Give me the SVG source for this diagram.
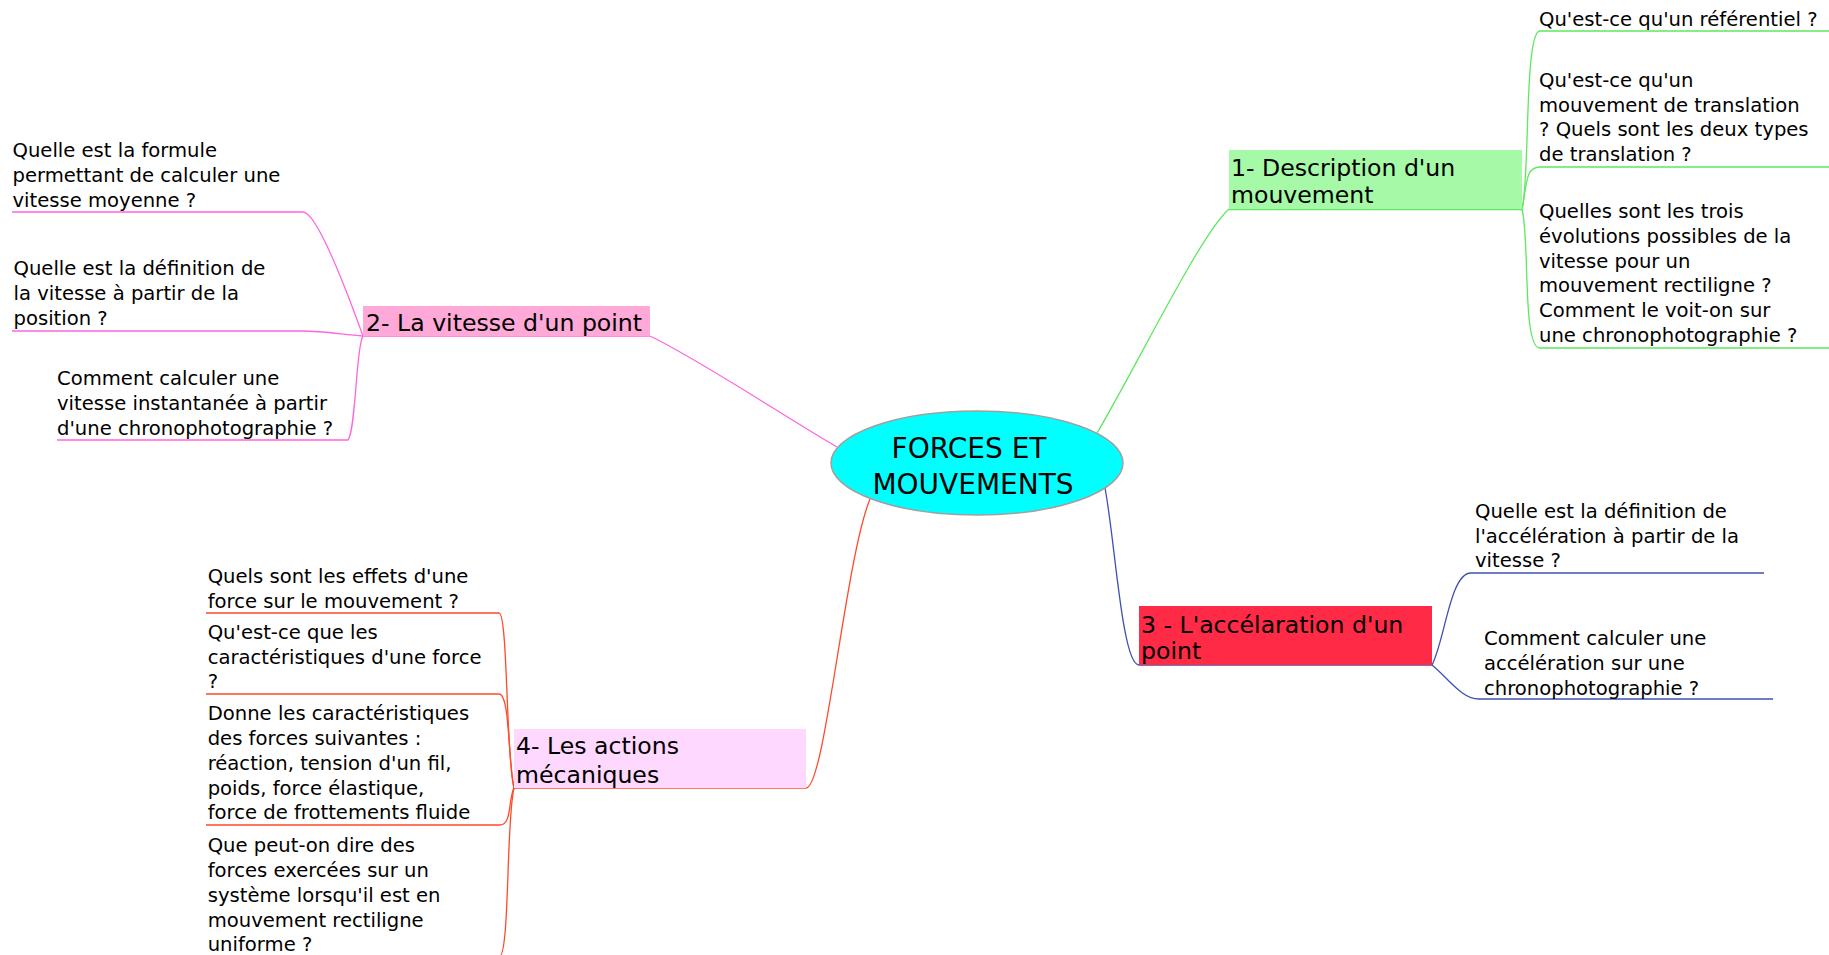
<svg xmlns="http://www.w3.org/2000/svg" width="1829" height="955" viewBox="0 0 1829 955">
<style>
text{font-family:"DejaVu Sans","Liberation Sans",sans-serif;fill:#000}
.leaf{font-size:19.6px}
.node{font-size:23.6px}
.root{font-size:28px}
.c{fill:none;stroke-width:1.3}
.g{stroke:#5EE85E}.p{stroke:#FF66DD}.b{stroke:#3F51B0}.r{stroke:#FF4A2A}
</style>
<rect width="1829" height="955" fill="#fff"/>
<g id="connectors">
<path class="c g" d="M1097,433 C1140,360 1200,235 1229,209"/>
<path class="c g" d="M1229,209.5 H1522"/>
<path class="c g" d="M1522,209 C1530,180 1524,31 1540,31 H1829"/>
<path class="c g" d="M1522,209 C1527,185 1525,167 1540,167 H1829"/>
<path class="c g" d="M1522,209 C1530,240 1522,348 1540,348 H1829"/>
<path class="c p" d="M650,336 C700,360 790,420 837,447"/>
<path class="c p" d="M363,336 H650"/>
<path class="c p" d="M363,336 C350,300 318,212 303,212 H12"/>
<path class="c p" d="M363,336 C340,334 320,331 303,331 H12"/>
<path class="c p" d="M363,336 C356,345 356,430 348,440 H57"/>
<path class="c b" d="M1105,488 C1115,540 1122,665 1139,665"/>
<path class="c b" d="M1139,665 H1432"/>
<path class="c b" d="M1432,665 C1445,640 1450,573 1471,573 H1764"/>
<path class="c b" d="M1432,665 C1450,680 1462,699 1479,699 H1773"/>
<path class="c r" d="M806,788 C825,788 845,560 870,499"/>
<path class="c r" d="M514,788 H806"/>
<path class="c r" d="M514,788 C506,760 508,613 499,613 H206"/>
<path class="c r" d="M514,788 C508,760 510,694 499,694 H206"/>
<path class="c r" d="M514,788 C508,800 512,825 500,825 H206"/>
<path class="c r" d="M514,788 C506,820 510,957 499,957 H206"/>
</g>
<g id="root">
<ellipse cx="977" cy="463" rx="146" ry="52" fill="#00FFFF" stroke="#A0A0A0" stroke-width="1.5"/>
<text class="root" x="969" y="458" text-anchor="middle">FORCES ET</text>
<text class="root" x="973" y="494" text-anchor="middle">MOUVEMENTS</text>
</g>
<g id="n1">
<rect x="1229" y="150" width="293" height="59" fill="#A6F9A6"/>
<text class="node"><tspan x="1231" y="175.5">1- Description d'un</tspan><tspan x="1231" y="202.5">mouvement</tspan></text>
</g>
<g id="n1a"><text class="leaf" x="1539" y="26">Qu'est-ce qu'un référentiel ?</text></g>
<g id="n1b"><text class="leaf"><tspan x="1539" y="87.2">Qu'est-ce qu'un</tspan><tspan x="1539" y="111.7">mouvement de translation</tspan><tspan x="1539" y="136.2">? Quels sont les deux types</tspan><tspan x="1539" y="160.7">de translation ?</tspan></text></g>
<g id="n1c"><text class="leaf"><tspan x="1539" y="217.9">Quelles sont les trois</tspan><tspan x="1539" y="242.7">évolutions possibles de la</tspan><tspan x="1539" y="267.5">vitesse pour un</tspan><tspan x="1539" y="292.3">mouvement rectiligne ?</tspan><tspan x="1539" y="317.1">Comment le voit-on sur</tspan><tspan x="1539" y="341.9">une chronophotographie ?</tspan></text></g>
<g id="n2">
<rect x="363" y="306" width="287" height="30" fill="#FFA9D9"/>
<text class="node" x="366" y="330.5">2- La vitesse d'un point</text>
</g>
<g id="n2a"><text class="leaf"><tspan x="12.5" y="156.5">Quelle est la formule</tspan><tspan x="12.5" y="181.5">permettant de calculer une</tspan><tspan x="12.5" y="206.5">vitesse moyenne ?</tspan></text></g>
<g id="n2b"><text class="leaf"><tspan x="13.5" y="275.3">Quelle est la définition de</tspan><tspan x="13.5" y="300.2">la vitesse à partir de la</tspan><tspan x="13.5" y="324.8">position ?</tspan></text></g>
<g id="n2c"><text class="leaf"><tspan x="57" y="384.5">Comment calculer une</tspan><tspan x="57" y="409.5">vitesse instantanée à partir</tspan><tspan x="57" y="434.5">d'une chronophotographie ?</tspan></text></g>
<g id="n3">
<rect x="1139" y="606" width="293" height="59" fill="#FF2A45"/>
<text class="node"><tspan x="1141" y="632.5">3 - L'accélaration d'un</tspan><tspan x="1141" y="659">point</tspan></text>
</g>
<g id="n3a"><text class="leaf"><tspan x="1475" y="517.9">Quelle est la définition de</tspan><tspan x="1475" y="542.7">l'accélération à partir de la</tspan><tspan x="1475" y="567.2">vitesse ?</tspan></text></g>
<g id="n3b"><text class="leaf"><tspan x="1484" y="644.5">Comment calculer une</tspan><tspan x="1484" y="669.5">accélération sur une</tspan><tspan x="1484" y="694.5">chronophotographie ?</tspan></text></g>
<g id="n4">
<rect x="514" y="729" width="292" height="59" fill="#FFD8FF"/>
<text class="node"><tspan x="516" y="754">4- Les actions</tspan><tspan x="516" y="782.5">mécaniques</tspan></text>
</g>
<g id="n4a"><text class="leaf"><tspan x="207.7" y="583">Quels sont les effets d'une</tspan><tspan x="207.7" y="608">force sur le mouvement ?</tspan></text></g>
<g id="n4b"><text class="leaf"><tspan x="207.7" y="638.5">Qu'est-ce que les</tspan><tspan x="207.7" y="663.5">caractéristiques d'une force</tspan><tspan x="207.7" y="688.2">?</tspan></text></g>
<g id="n4c"><text class="leaf"><tspan x="207.7" y="719.5">Donne les caractéristiques</tspan><tspan x="207.7" y="744.5">des forces suivantes :</tspan><tspan x="207.7" y="769.5">réaction, tension d'un fil,</tspan><tspan x="207.7" y="794.5">poids, force élastique,</tspan><tspan x="207.7" y="818.7">force de frottements fluide</tspan></text></g>
<g id="n4d"><text class="leaf"><tspan x="207.7" y="851.5">Que peut-on dire des</tspan><tspan x="207.7" y="876.5">forces exercées sur un</tspan><tspan x="207.7" y="901.5">système lorsqu'il est en</tspan><tspan x="207.7" y="926.5">mouvement rectiligne</tspan><tspan x="207.7" y="950.5">uniforme ?</tspan></text></g>
</svg>
